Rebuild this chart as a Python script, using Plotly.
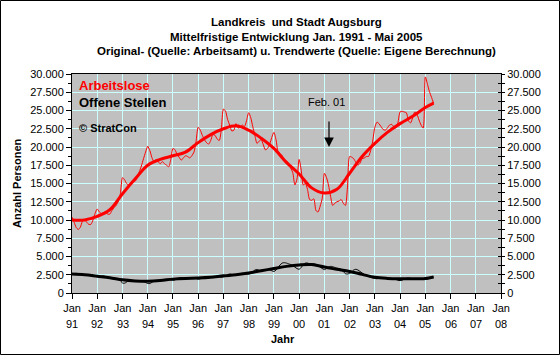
import pandas as pd
import plotly.graph_objects as go

# ---------------- data ----------------
months = pd.date_range("1991-01-01", "2005-05-01", freq="MS")

arbeitslose = [
    10400, 9700, 9000, 8700, 9000, 9800, 10000, 9700, 9400, 9400, 10000, 10900,      # 1991
    11500, 11100, 10900, 11000, 11100, 10800, 10800, 11300, 11700, 12000, 12600, 13600,  # 1992
    15800, 15500, 15000, 14800, 15000, 15400, 15300, 15800, 16600, 17400, 18400, 19300,  # 1993
    20100, 19500, 18600, 18000, 18300, 18000, 17700, 18000, 17700, 17500, 17300, 18300,  # 1994
    19800, 19600, 19000, 18600, 18200, 18500, 18800, 18700, 18500, 18800, 19300, 20700,  # 1995
    22700, 22300, 21600, 21000, 20600, 20400, 20900, 21700, 21600, 21100, 20900, 22400,  # 1996
    25200, 24900, 23800, 23000, 22200, 22300, 23200, 22600, 22700, 23000, 22800, 23600,  # 1997
    24700, 24000, 22800, 21600, 20500, 20800, 21000, 20300, 19600, 19800, 20400, 21300,  # 1998
    22000, 21000, 19400, 19100, 18800, 18200, 18100, 17700, 17100, 16500, 14800, 15600,  # 1999
    18300, 16800, 14800, 15000, 14200, 12800, 12700, 12900, 11300, 11100, 11900, 13000,  # 2000
    16400, 15800, 14800, 13200, 12000, 12300, 12500, 12600, 12800, 12300, 12000, 14500,  # 2001
    18700, 18600, 18400, 17900, 17500, 17800, 18400, 18500, 18700, 18700, 19500, 20800,  # 2002
    22700, 23400, 23200, 22800, 22400, 22300, 22600, 23000, 23100, 22800, 22600, 23300,  # 2003
    24800, 24900, 24800, 24700, 23600, 23300, 24000, 24800, 24500, 23700, 23000, 22600,  # 2004
    29600, 28600, 27600, 26800, 26000,                                                   # 2005
]

offene_stellen = [
    2600, 2650, 2700, 2650, 2600, 2550, 2500, 2450, 2500, 2550, 2450, 2350,  # 1991
    2300, 2250, 2300, 2350, 2250, 2150, 2100, 2050, 2000, 1950, 1900, 1750,  # 1992
    1350, 1350, 1500, 1700, 1750, 1700, 1650, 1700, 1650, 1600, 1550, 1450,  # 1993
    1300, 1300, 1450, 1650, 1700, 1700, 1750, 1800, 1800, 1850, 1850, 1800,  # 1994
    1750, 1800, 1950, 2050, 2100, 2050, 2000, 2000, 2050, 2100, 2050, 2000,  # 1995
    1900, 1950, 2050, 2150, 2200, 2200, 2150, 2200, 2250, 2250, 2200, 2150,  # 1996
    2200, 2300, 2500, 2600, 2550, 2500, 2450, 2550, 2650, 2700, 2650, 2600,  # 1997
    2600, 2700, 2900, 3150, 3200, 3100, 3000, 3100, 3150, 3200, 3150, 3050,  # 1998
    2950, 3150, 3500, 3850, 4100, 4150, 4100, 4000, 3900, 3750, 3550, 3350,  # 1999
    3250, 3500, 3900, 4100, 4100, 4000, 3950, 4000, 3900, 3750, 3550, 3350,  # 2000
    3200, 3350, 3550, 3650, 3600, 3500, 3400, 3350, 3200, 2950, 2650, 2600,  # 2001
    2700, 2900, 3150, 3250, 3150, 2950, 2750, 2550, 2400, 2250, 2150, 2050,  # 2002
    2000, 1950, 2050, 2150, 2100, 2050, 2000, 1950, 1950, 1900, 1850, 1750,  # 2003
    1700, 1750, 1900, 2000, 2050, 2000, 1950, 1950, 1950, 1900, 1900, 1850,  # 2004
    1850, 1900, 2000, 2100, 2200,                                            # 2005
]

trend_dates = pd.to_datetime([
    "1991-01-01", "1991-07-01", "1992-01-01", "1992-07-01", "1993-01-01", "1993-07-01",
    "1994-01-01", "1994-07-01", "1995-01-01", "1995-07-01", "1996-01-01", "1996-07-01",
    "1997-01-01", "1997-07-01", "1998-01-01", "1998-07-01", "1999-01-01", "1999-07-01",
    "2000-01-01", "2000-07-01", "2001-01-01", "2001-07-01", "2002-01-01", "2002-07-01",
    "2003-01-01", "2003-07-01", "2004-01-01", "2004-07-01", "2005-01-01", "2005-05-01",
])
trend_arbeitslose = [
    10000, 10000, 10500, 11400, 13600, 15600, 17500, 18300, 18800, 19300,
    20600, 21700, 22500, 22900, 22300, 21200, 19800, 17900, 16300, 14400,
    13700, 14200, 16400, 18700, 20500, 22000, 23200, 24200, 25400, 26000,
]
trend_offene = [
    2600, 2500, 2300, 2100, 1800, 1650, 1600, 1700, 1900, 2000,
    2050, 2150, 2350, 2500, 2750, 3050, 3350, 3650, 3850, 3900,
    3550, 3250, 2950, 2550, 2150, 2000, 1950, 1950, 2000, 2200,
]

tick_dates = pd.date_range("1991-01-01", "2008-01-01", freq="YS")
tick_month = ["Jan"] * len(tick_dates)
tick_years = ["91", "92", "93", "94", "95", "96", "97", "98", "99",
              "00", "01", "02", "03", "04", "05", "06", "07", "08"]

title_lines = [
    "Landkreis  und Stadt Augsburg",
    "Mittelfristige Entwicklung Jan. 1991 - Mai 2005",
    "Original- (Quelle: Arbeitsamt) u. Trendwerte (Quelle: Eigene Berechnung)",
]

# ---------------- figure ----------------
FONT = "Arial, Liberation Sans, sans-serif"
GRID = "#ccffff"

# plot area in pixels: x 72..501, y 74..293
L, R, T, B = 72, 501, 74, 293
W, H = 560, 355


def px_x(px):
    return (px - L) / (R - L)


def px_y(py):
    return (B - py) / (B - T)


fig = go.Figure()
fig.add_trace(go.Scatter(x=months, y=offene_stellen, mode="lines",
                         line=dict(color="black", width=1, shape="spline", smoothing=0.7),
                         hoverinfo="skip"))
fig.add_trace(go.Scatter(x=trend_dates, y=trend_offene, mode="lines",
                         line=dict(color="black", width=3, shape="spline", smoothing=1.0),
                         hoverinfo="skip"))
fig.add_trace(go.Scatter(x=months, y=arbeitslose, mode="lines",
                         line=dict(color="#ff0000", width=1, shape="spline", smoothing=0.7),
                         hoverinfo="skip"))
fig.add_trace(go.Scatter(x=trend_dates, y=trend_arbeitslose, mode="lines",
                         line=dict(color="#ff0000", width=3, shape="spline", smoothing=1.0),
                         hoverinfo="skip"))
# invisible traces to anchor right axes
fig.add_trace(go.Scatter(x=[months[0]], y=[0], yaxis="y2", mode="markers",
                         marker=dict(opacity=0), hoverinfo="skip"))
fig.add_trace(go.Scatter(x=[months[0]], y=[0], yaxis="y3", mode="markers",
                         marker=dict(opacity=0), hoverinfo="skip"))

yaxis_common = dict(range=[0, 30000], dtick=2500, tick0=0, tickformat=",d",
                    showline=True, linecolor="black", linewidth=1,
                    zeroline=False, tickcolor="black",
                    tickfont=dict(family=FONT, size=11, color="black"))

fig.update_layout(
    width=W, height=H,
    margin=dict(l=L, r=W - R, t=T, b=H - B),
    paper_bgcolor="white",
    plot_bgcolor="#c0c0c0",
    separators=",.",
    showlegend=False,
    font=dict(family=FONT, size=11, color="black"),
    xaxis=dict(type="date", range=["1991-01-01", "2008-01-01"],
               tickvals=tick_dates, ticktext=tick_month,
               ticks="outside", ticklen=5, tickcolor="black",
               showgrid=True, gridcolor=GRID, gridwidth=1,
               showline=True, linecolor="black", linewidth=1, mirror=True,
               tickfont=dict(family=FONT, size=11, color="black")),
    yaxis=dict(**yaxis_common, ticks="outside", ticklen=5,
               showgrid=True, gridcolor=GRID, gridwidth=1,
               minor=dict(ticks="outside", ticklen=3, dtick=1250, tick0=0,
                          tickcolor="black", showgrid=False)),
    yaxis2=dict(**yaxis_common, overlaying="y", side="right",
                ticks="outside", ticklen=3, showgrid=False,
                minor=dict(ticks="outside", ticklen=3, dtick=1250, tick0=0,
                           tickcolor="black", showgrid=False)),
    yaxis3=dict(range=[0, 30000], dtick=2500, tick0=0, overlaying="y", side="right",
                ticks="inside", ticklen=3, tickcolor="black", showgrid=False,
                showticklabels=False, showline=False, zeroline=False,
                minor=dict(ticks="inside", ticklen=3, dtick=1250, tick0=0,
                           tickcolor="black", showgrid=False)),
)

ann = []
# title
for line, py in zip(title_lines, [22, 37, 51]):
    ann.append(dict(text="<b>" + line + "</b>", xref="paper", yref="paper",
                    x=px_x(296), y=px_y(py), xanchor="center", yanchor="middle",
                    showarrow=False, font=dict(family=FONT, size=11.5, color="black")))
# year row of x tick labels
for d, yy in zip(tick_dates, tick_years):
    ann.append(dict(text=yy, xref="x", yref="paper", x=d, y=px_y(324),
                    xanchor="center", yanchor="middle", showarrow=False,
                    font=dict(family=FONT, size=11, color="black")))
# axis titles
ann.append(dict(text="<b>Jahr</b>", xref="paper", yref="paper", x=px_x(283), y=px_y(339),
                xanchor="center", yanchor="middle", showarrow=False,
                font=dict(family=FONT, size=11, color="black")))
ann.append(dict(text="<b>Anzahl Personen</b>", xref="paper", yref="paper",
                x=px_x(17), y=px_y(183), textangle=-90,
                xanchor="center", yanchor="middle", showarrow=False,
                font=dict(family=FONT, size=11, color="black")))
# legend-like labels
ann.append(dict(text="<b>Arbeitslose</b>", xref="paper", yref="paper",
                x=px_x(77), y=px_y(85), xanchor="left", yanchor="middle",
                showarrow=False, font=dict(family=FONT, size=13, color="#ff0000")))
ann.append(dict(text="<b>Offene Stellen</b>", xref="paper", yref="paper",
                x=px_x(77), y=px_y(102), xanchor="left", yanchor="middle",
                showarrow=False, font=dict(family=FONT, size=13, color="black")))
ann.append(dict(text="<b>© StratCon</b>", xref="paper", yref="paper",
                x=px_x(77), y=px_y(128), xanchor="left", yanchor="middle",
                showarrow=False, font=dict(family=FONT, size=11, color="black")))
# Feb. 01 marker
ann.append(dict(text="Feb. 01", xref="paper", yref="paper",
                x=px_x(326), y=px_y(102), xanchor="center", yanchor="middle",
                showarrow=False, font=dict(family=FONT, size=11, color="black")))
ann.append(dict(text="", xref="paper", yref="paper",
                x=px_x(329), y=px_y(147), ax=0, ay=-27,
                showarrow=True, arrowhead=2, arrowsize=1.6, arrowwidth=1.2,
                arrowcolor="black"))
fig.update_layout(annotations=ann)

# outer frame
fig.add_shape(type="rect", xref="paper", yref="paper",
              x0=px_x(0.5), x1=px_x(W - 0.5), y0=px_y(H - 0.5), y1=px_y(0.5),
              line=dict(color="black", width=1), fillcolor="rgba(0,0,0,0)", layer="above")

fig.write_html("out.html",
               config={"displayModeBar": False, "staticPlot": True},
               post_script="document.body.style.margin='0';document.body.style.overflow='hidden';")
